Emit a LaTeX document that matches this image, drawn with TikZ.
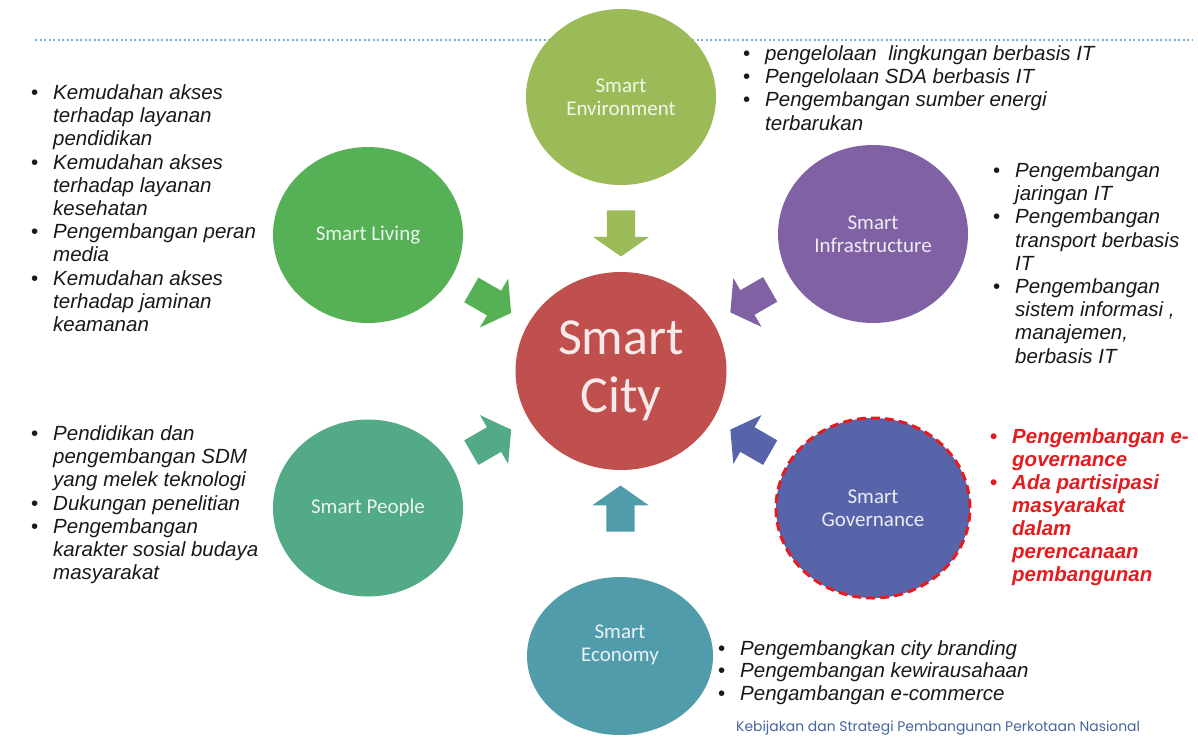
\documentclass[tikz,border=0pt]{standalone}
\usepackage{fontspec}
\setmainfont{Liberation Sans}
\newfontfamily\calibri{Carlito}
\newfontfamily\gothic{Poppins}
\usepackage{tikz}
\usetikzlibrary{shapes.geometric,shapes.arrows,calc}

\definecolor{envgreen}{RGB}{155,187,89}
\definecolor{livgreen}{RGB}{86,176,86}
\definecolor{infrapurple}{RGB}{128,98,164}
\definecolor{cityred}{RGB}{192,80,77}
\definecolor{peopleteal}{RGB}{82,170,134}
\definecolor{govblue}{RGB}{88,100,170}
\definecolor{econblue}{RGB}{80,156,170}
\definecolor{notered}{RGB}{228,28,32}
\definecolor{ruleblue}{RGB}{120,176,216}
\definecolor{footblue}{RGB}{70,100,160}

% bullet and hanging indent for the lists
\newcommand{\bul}{\strut\makebox[22pt][l]{\upshape\textbullet}}
\newcommand{\ind}{\hspace*{22pt}}

\begin{document}
\begin{tikzpicture}[x=1pt, y=-1pt,
    bubble/.style={ellipse, fill=#1, text=white!88!#1, inner sep=0pt, align=center,
                   font=\calibri\fontsize{21}{23}\selectfont},
    inarrow/.style={single arrow, fill=#1, inner xsep=0pt, inner ysep=14pt, minimum height=46pt,
                    single arrow head extend=14pt, single arrow tip angle=110},
    points/.style={anchor=north west, inner sep=0pt, align=left, text=black!90,
                   font=\itshape\fontsize{20.5}{23.2}\selectfont}]
  \path[use as bounding box, fill=white] (0,0) rectangle (1198,737);

  % dotted rule under the title
  \coordinate (rule-l) at (35,40);
  \coordinate (rule-r) at (1192,40);
  \draw[ruleblue, line width=2pt, dash pattern=on 2pt off 2.5pt] (rule-l) -- (rule-r);

  % the seven circles
  \node[bubble=cityred, minimum width=211pt, minimum height=198pt,
        font=\calibri\fontsize{52}{58}\selectfont] (city) at (621,371) {Smart\\City};
  \node[bubble=envgreen, minimum width=190pt, minimum height=176pt] (env) at (621,97) {Smart\\Environment};
  \node[bubble=livgreen, minimum width=190pt, minimum height=176pt] (living) at (368,235) {Smart Living};
  \node[bubble=infrapurple, minimum width=190pt, minimum height=178pt] (infra) at (873,234) {Smart\\Infrastructure};
  \node[bubble=peopleteal, minimum width=190pt, minimum height=177pt] (people) at (368,508) {Smart People};
  \node[bubble=govblue, minimum width=194pt, minimum height=180pt, draw=notered, line width=3pt,
        dash pattern=on 9pt off 5pt] (gov) at (873,508) {Smart\\Governance};
  \node[bubble=econblue, minimum width=186pt, minimum height=158pt, text depth=25pt] (econ) at (620,656) {Smart\\Economy};

  % arrows pointing into the centre
  \node[inarrow=envgreen, rotate=-90] (ar-env) at ($(city)!0.52!(env)$) {};
  \node[inarrow=livgreen, rotate=-30] (ar-living) at ($(city)!0.53!(living)$) {};
  \node[inarrow=infrapurple, rotate=-150] (ar-infra) at ($(city)!0.53!(infra)$) {};
  \node[inarrow=peopleteal, rotate=30] (ar-people) at ($(city)!0.53!(people)$) {};
  \node[inarrow=govblue, rotate=150] (ar-gov) at ($(city)!0.53!(gov)$) {};
  \node[inarrow=econblue, rotate=90] (ar-econ) at ($(city)!0.5!(econ)$) {};

  % lists
  \node[points] (living-pts) at (31,83) {\bul Kemudahan akses\\ \ind terhadap layanan\\ \ind pendidikan\\
    \bul Kemudahan akses\\ \ind terhadap layanan\\ \ind kesehatan\\
    \bul Pengembangan peran\\ \ind media\\
    \bul Kemudahan akses\\ \ind terhadap jaminan\\ \ind keamanan};
  \node[points] (people-pts) at (31,424) {\bul Pendidikan dan\\ \ind pengembangan SDM\\ \ind yang melek teknologi\\
    \bul Dukungan penelitian\\
    \bul Pengembangan\\ \ind karakter sosial budaya\\ \ind masyarakat};
  \node[points] (env-pts) at (743,44) {\bul pengelolaan\ \ lingkungan berbasis IT\\
    \bul Pengelolaan SDA berbasis IT\\
    \bul Pengembangan sumber energi\\ \ind terbarukan};
  \node[points] (infra-pts) at (993,161) {\bul Pengembangan\\ \ind jaringan IT\\
    \bul Pengembangan\\ \ind transport berbasis\\ \ind IT\\
    \bul Pengembangan\\ \ind sistem informasi ,\\ \ind manajemen,\\ \ind berbasis IT};
  \node[points, text=notered, font=\bfseries\itshape\fontsize{20.5}{23}\selectfont] (gov-pts) at (990,427)
    {\bul Pengembangan e-\\ \ind governance\\
    \bul Ada partisipasi\\ \ind masyarakat\\ \ind dalam\\ \ind perencanaan\\ \ind pembangunan};
  \node[points, font=\itshape\fontsize{20.5}{22.8}\selectfont] (econ-pts) at (718,639)
    {\bul Pengembangkan city branding\\
    \bul Pengembangan kewirausahaan\\
    \bul Pengambangan e-commerce};

  \node[anchor=west, inner sep=0pt, text=footblue, font=\gothic\fontsize{13.9}{15}\selectfont] (footer) at (736,728)
    {Kebijakan dan Strategi Pembangunan Perkotaan Nasional};
\end{tikzpicture}
\end{document}
